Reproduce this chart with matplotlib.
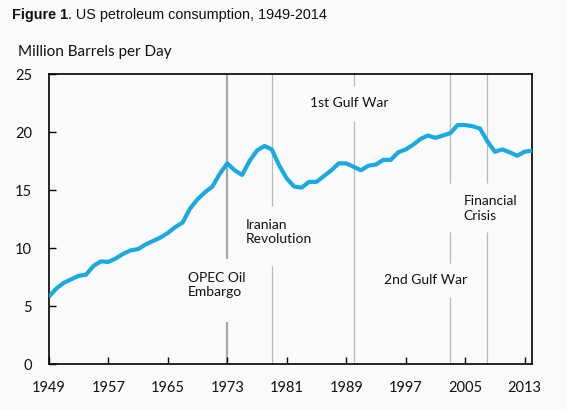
import numpy as np
import matplotlib
matplotlib.use("Agg")
import matplotlib.pyplot as plt

# data (million barrels per day)
years = list(range(1949, 2015))
consumption = [5.8, 6.5, 7.0, 7.3, 7.6, 7.7, 8.45, 8.85, 8.8, 9.1,
               9.5, 9.8, 9.9, 10.3, 10.6, 10.9, 11.3, 11.8, 12.2, 13.4,
               14.2, 14.8, 15.3, 16.4, 17.3, 16.7, 16.3, 17.5, 18.4, 18.8,
               18.5, 17.1, 16.0, 15.3, 15.2, 15.7, 15.7, 16.2, 16.7, 17.3,
               17.3, 17.0, 16.7, 17.1, 17.2, 17.6, 17.6, 18.25, 18.5, 18.9,
               19.4, 19.7, 19.5, 19.7, 19.9, 20.6, 20.6, 20.5, 20.3, 19.2,
               18.3, 18.5, 18.25, 17.95, 18.3, 18.4]

event_years = [1973, 1979, 1990, 2003, 2008]
event_labels = ["OPEC Oil\nEmbargo", "Iranian\nRevolution", "1st Gulf War",
                "2nd Gulf War", "Financial\nCrisis"]

x_ticks = list(range(1949, 2014, 8))
y_ticks = [0, 5, 10, 15, 20, 25]

# visible pieces of each event line (gaps leave room for the labels)
event_segments = {
    1973: [(9.05, 25), (0, 3.65)],
    1979: [(13.6, 25), (0, 8.47)],
    1990: [(24.0, 25), (0, 20.95)],
    2003: [(15.6, 25), (8.73, 11.4), (0, 5.8)],
    2008: [(15.6, 25), (0, 11.4)],
}
label_pos = {
    1973: (1967.7, 6.83),
    1979: (1975.5, 11.4),
    1990: (1984.1, 22.5),
    2003: (1994.15, 7.24),
    2008: (2004.8, 13.4),
}

bg = '#fafafa'
fig = plt.figure(figsize=(5.67, 4.09), dpi=100, facecolor=bg)
ax = fig.add_axes([0.0861, 0.110, 0.8522, 0.709], facecolor=bg)

for yr in event_years:
    lw = 1.6 if yr == 1973 else 0.9
    col = '#a8a8a8' if yr == 1973 else '#b8b8b8'
    for lo, hi in event_segments[yr]:
        ax.plot([yr, yr], [lo, hi], color=col, lw=lw, zorder=1,
                solid_capstyle='butt')

ax.plot(years, consumption, color='#1aa9e0', lw=3.0, zorder=3,
        solid_joinstyle='round', solid_capstyle='butt')

txt_font = dict(family=['Lato', 'DejaVu Sans'], fontsize=10, color='#111111')
for yr, lab in zip(event_years, event_labels):
    lx, ly = label_pos[yr]
    ax.text(lx, ly, lab, ha='left', va='center', linespacing=1.25, **txt_font)

ax.set_xlim(1949, 2014)
ax.set_ylim(0, 25)
ax.set_xticks(x_ticks)
ax.set_yticks(y_ticks)
ax.tick_params(direction='in', length=5, width=1, color='black')
ax.tick_params(axis='x', pad=12)
ax.tick_params(axis='y', pad=12)
for lab in ax.get_xticklabels() + ax.get_yticklabels():
    lab.set_family(['Lato', 'DejaVu Sans'])
    lab.set_fontsize(10.5)
    lab.set_color('#111111')
for sp in ax.spines.values():
    sp.set_linewidth(1.2)
    sp.set_color('black')

fig.text(0.032, 0.873, "Million Barrels per Day", ha='left', va='center',
         family=['Lato', 'DejaVu Sans'], fontsize=11, color='#111111')

# title: bold "Figure 1" followed by regular text
t1 = fig.text(0.021, 0.9645, "Figure 1", ha='left', va='center',
              family='Liberation Sans', fontweight='bold', fontsize=10.4,
              color='#111111')
fig.canvas.draw()
bb = t1.get_window_extent()
fig.text(bb.x1 / fig.bbox.width, 0.9645,
         ". US petroleum consumption, 1949-2014", ha='left', va='center',
         family='Liberation Sans', fontsize=10.4, color='#111111')

fig.savefig("out.png", dpi=100, facecolor=bg)
